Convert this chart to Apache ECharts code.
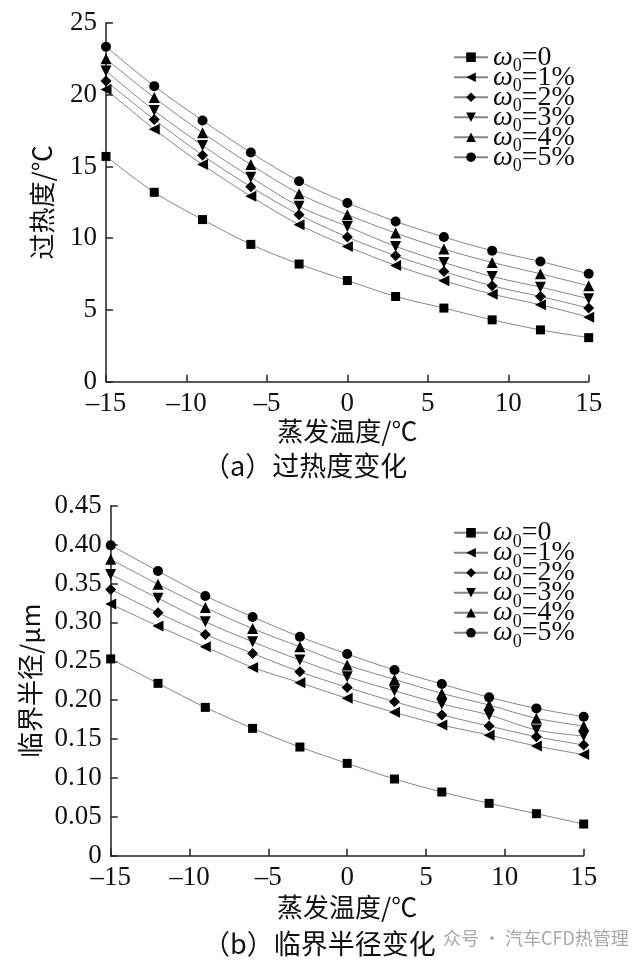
<!DOCTYPE html>
<html>
<head>
<meta charset="utf-8">
<script src="https://cdn.jsdelivr.net/npm/echarts@6/dist/echarts.min.js"></script>
<style>html,body{margin:0;padding:0;background:#fff;}#c{width:637px;height:962px;}</style>
</head>
<body>
<div id="c"></div>
<script>
// evaporation temperature, °C
const temps = [-15, -12, -9, -6, -3, 0, 3, 6, 9, 12, 15];
// legend labels (ω0 = ...)
const omegaLabels = ['0', '1%', '2%', '3%', '4%', '5%'];
// (a) superheat degree, °C
const superheat0 = [15.7, 13.2, 11.3, 9.57, 8.2, 7.05, 5.94, 5.13, 4.31, 3.61, 3.07];
const superheat1 = [20.37, 17.6, 15.13, 12.92, 10.94, 9.43, 8.1, 7.03, 6.1, 5.36, 4.5];
const superheat2 = [20.95, 18.27, 15.78, 13.58, 11.64, 10.08, 8.78, 7.68, 6.68, 5.94, 5.13];
const superheat3 = [21.65, 18.9, 16.46, 14.25, 12.22, 10.82, 9.43, 8.31, 7.33, 6.59, 5.78];
const superheat4 = [22.5, 19.8, 17.35, 15.13, 13.1, 11.64, 10.36, 9.24, 8.31, 7.52, 6.68];
const superheat5 = [23.35, 20.6, 18.2, 15.97, 13.97, 12.46, 11.17, 10.08, 9.13, 8.38, 7.52];
// (b) critical radius, μm
const radius0 = [0.253, 0.2216, 0.1907, 0.1637, 0.1397, 0.1187, 0.0986, 0.0819, 0.0673, 0.054, 0.0407];
const radius1 = [0.3235, 0.2952, 0.2686, 0.2421, 0.2224, 0.2023, 0.1843, 0.168, 0.155, 0.141, 0.130];
const radius2 = [0.3424, 0.3124, 0.2845, 0.260, 0.2365, 0.2164, 0.198, 0.181, 0.1667, 0.153, 0.1423];
const radius3 = [0.3617, 0.331, 0.3008, 0.275, 0.2515, 0.230, 0.212, 0.195, 0.181, 0.1616, 0.1539];
const radius4 = [0.381, 0.349, 0.319, 0.292, 0.2686, 0.2451, 0.2267, 0.2087, 0.1937, 0.1766, 0.1667];
const radius5 = [0.399, 0.366, 0.334, 0.307, 0.2815, 0.2593, 0.2387, 0.2207, 0.2036, 0.1894, 0.1787];
// tick labels
const xTicks = [-15, -10, -5, 0, 5, 10, 15];
const yTicksA = [0, 5, 10, 15, 20, 25];
const yTicksB = [0, 0.05, 0.10, 0.15, 0.20, 0.25, 0.30, 0.35, 0.40, 0.45];

const superheatSets = [superheat0, superheat1, superheat2, superheat3, superheat4, superheat5];
const radiusSets = [radius0, radius1, radius2, radius3, radius4, radius5];

const markers = [
  {symbol: 'rect', size: 9, rotate: 0},
  {symbol: 'triangle', size: 11, rotate: 90},
  {symbol: 'diamond', size: 11, rotate: 0},
  {symbol: 'triangle', size: 11, rotate: 180},
  {symbol: 'triangle', size: 11, rotate: 0},
  {symbol: 'circle', size: 10, rotate: 0}
];

const SERIF = 'Liberation Serif';
const CJK = 'Noto Sans CJK SC';
const AXIS = '#222';

function xAxisCfg(gridIndex, gap) {
  return {
    type: 'value', gridIndex, min: xTicks[0], max: xTicks[xTicks.length - 1], interval: 5,
    name: '蒸发温度/℃', nameLocation: 'middle', nameGap: gap,
    nameTextStyle: {fontFamily: CJK, fontSize: 26, color: '#111'},
    axisLine: {show: true, onZero: false, lineStyle: {color: AXIS, width: 1.5}},
    axisTick: {show: true, inside: true, length: 7, lineStyle: {color: AXIS, width: 1.5}},
    axisLabel: {fontFamily: SERIF, fontSize: 27, color: '#111', margin: 9,
      formatter: v => String(v).replace('-', '–')},
    splitLine: {show: false}
  };
}
function yAxisCfg(gridIndex, ticks, name, gap, fmt) {
  return {
    type: 'value', gridIndex, min: ticks[0], max: ticks[ticks.length - 1],
    interval: ticks[1] - ticks[0],
    name, nameLocation: 'middle', nameGap: gap,
    nameTextStyle: {fontFamily: CJK, fontSize: 26, color: '#111'},
    axisLine: {show: true, onZero: false, lineStyle: {color: AXIS, width: 1.5}},
    axisTick: {show: true, inside: true, length: 7, lineStyle: {color: AXIS, width: 1.5}},
    axisLabel: {fontFamily: SERIF, fontSize: 27, color: '#111', margin: 9, formatter: fmt},
    splitLine: {show: false}
  };
}

function makeSeries(prefix, sets, axisIndex) {
  return sets.map((vals, i) => ({
    name: prefix + '|' + omegaLabels[i],
    type: 'line',
    xAxisIndex: axisIndex, yAxisIndex: axisIndex,
    data: temps.map((t, j) => [t, vals[j]]),
    smooth: 0.3,
    clip: false,
    symbol: markers[i].symbol,
    symbolSize: markers[i].size,
    symbolRotate: markers[i].rotate,
    showAllSymbol: true,
    lineStyle: {color: '#858585', width: 1},
    itemStyle: {color: '#000', borderWidth: 0},
    emphasis: {disabled: true},
    animation: false
  }));
}

const legendRich = {
  w: {fontFamily: SERIF, fontStyle: 'italic', fontSize: 28, lineHeight: 36, color: '#111'},
  s: {fontFamily: SERIF, fontSize: 18, lineHeight: 18, verticalAlign: 'bottom', color: '#111'},
  t: {fontFamily: SERIF, fontSize: 28, lineHeight: 36, color: '#111'}
};
function legendCfg(prefix, top) {
  return {
    orient: 'vertical', left: 448, top,
    itemWidth: 34, itemHeight: 12, itemGap: -12,
    data: omegaLabels.map(l => prefix + '|' + l),
    formatter: name => '{w|ω}{s|0}{t|=' + name.split('|')[1] + '}',
    textStyle: {rich: legendRich},
    selectedMode: false
  };
}

const chart = echarts.init(document.getElementById('c'), null, {renderer: 'canvas'});
chart.setOption({
  animation: false,
  backgroundColor: '#fff',
  title: [
    {text: '（a）过热度变化', left: 198, top: 447,
     textStyle: {fontFamily: CJK, fontSize: 27, fontWeight: 'normal', color: '#111'}},
    {text: '（b）临界半径变化', left: 198, top: 925,
     textStyle: {fontFamily: CJK, fontSize: 27, fontWeight: 'normal', color: '#111'}}
  ],
  grid: [
    {left: 106, top: 23, width: 482.7, height: 358.7},
    {left: 110.7, top: 505.7, width: 473, height: 350}
  ],
  xAxis: [xAxisCfg(0, 34), xAxisCfg(1, 38)],
  yAxis: [
    yAxisCfg(0, yTicksA, '过热度/℃', 51, v => String(v)),
    yAxisCfg(1, yTicksB, '临界半径/μm', 68, v => (Math.abs(v) < 1e-9 ? '0' : v.toFixed(2)))
  ],
  legend: [legendCfg('a', 38.2), legendCfg('b', 513.8)],
  graphic: [
    {type: 'text', left: 443, top: 929,
     style: {text: '众号 · 汽车CFD热管理', fontFamily: CJK, fontSize: 18, fill: '#a8a8a8'}}
  ],
  series: makeSeries('a', superheatSets, 0).concat(makeSeries('b', radiusSets, 1))
});
</script>
</body>
</html>
